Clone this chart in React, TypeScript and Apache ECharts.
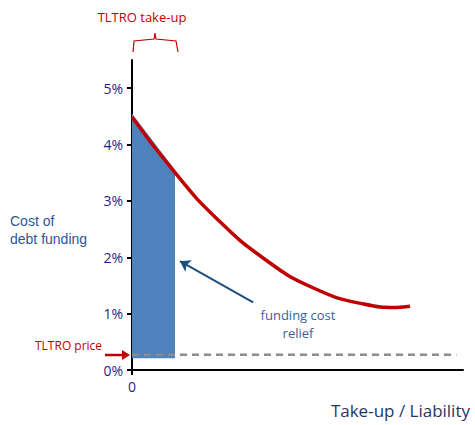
import React, { useEffect, useRef } from "react";
import * as echarts from "echarts";

// cost of debt funding (%) vs take-up / liability
const curve: number[][] = [
  [0, 4.49], [13, 3.5], [25, 2.72], [40, 1.97], [55, 1.45], [70, 1.17], [80, 1.11], [84, 1.13],
];
const reliefArea: number[][] = [[0, 4.55], [13, 3.55], [13, 0.21], [0, 0.21]];
const tltroPrice = 0.27;
const tltroEnd = 98;
const yTicks = [0, 1, 2, 3, 4, 5];

const navy = "#1f1f8a";
const blue = "#2f5597";
const red = "#c00000";

const App: React.FC = () => {
  const chartRef = useRef<HTMLDivElement>(null);

  useEffect(() => {
    document.body.style.margin = "0";
    if (!chartRef.current) return;
    const chart = echarts.init(chartRef.current, null, { renderer: "svg" });

    const option = {
      animation: false,
      textStyle: { fontFamily: "Open Sans" },
      grid: { left: 132, right: 12, top: 60, bottom: 55 },
      xAxis: {
        type: "value",
        min: 0,
        max: 100,
        interval: 100,
        splitLine: { show: false },
        axisLine: { show: true, lineStyle: { color: "#000", width: 2 } },
        axisTick: { show: true, customValues: [0], length: 5, lineStyle: { color: "#000", width: 2 } },
        axisLabel: {
          customValues: [0],
          color: navy,
          fontSize: 14,
          margin: 9,
          formatter: (v: number) => (v === 0 ? "0" : ""),
        },
      },
      yAxis: {
        type: "value",
        min: 0,
        max: 5.5,
        interval: 1,
        splitLine: { show: false },
        axisLine: { show: true, lineStyle: { color: "#000", width: 2 } },
        axisTick: { show: true, customValues: yTicks, length: 5, lineStyle: { color: "#000", width: 2 } },
        axisLabel: {
          customValues: yTicks,
          color: navy,
          fontSize: 14,
          margin: 9,
          formatter: (v: number) => v + "%",
        },
      },
      series: [
        {
          type: "custom",
          data: [0],
          z: 1,
          renderItem: (_p: any, api: any) => ({
            type: "polygon",
            shape: { points: reliefArea.map((d) => api.coord(d)) },
            style: { fill: "#4f81bd" },
          }),
        },
        {
          type: "line",
          data: [[0, tltroPrice], [tltroEnd, tltroPrice]],
          symbol: "none",
          z: 2,
          lineStyle: { color: "#8c8c8c", width: 2.5, type: [7, 5] },
        },
        {
          type: "line",
          data: curve,
          smooth: 0.5,
          symbol: "none",
          z: 3,
          lineStyle: { color: red, width: 3.5 },
          markLine: {
            silent: true,
            symbol: ["none", "arrow"],
            symbolSize: 10,
            label: { show: false },
            lineStyle: { color: "#1f4e79", width: 2, type: "solid" },
            data: [[{ coord: [36.6, 1.2] }, { coord: [14.5, 1.93] }]],
          },
        },
      ],
      graphic: [
        { type: "text", x: 142, y: 17, style: { text: "TLTRO take-up", fill: red, font: "13px 'Open Sans'", textAlign: "center", textVerticalAlign: "middle" } },
        {
          type: "polyline",
          shape: { points: [[133, 52], [134, 41], [154, 39], [155, 33], [156, 39], [176, 41], [178, 52]] },
          style: { stroke: red, lineWidth: 1.2, fill: "none" },
        },
        { type: "text", x: 10, y: 212, style: { text: "Cost of\ndebt funding", fill: blue, font: "14px 'Liberation Sans'", lineHeight: 18 } },
        { type: "text", x: 298, y: 324, style: { text: "funding cost\nrelief", fill: "#3a5f9a", font: "13px 'Open Sans'", lineHeight: 18, textAlign: "center", textVerticalAlign: "middle" } },
        { type: "text", x: 35, y: 345, style: { text: "TLTRO price", fill: red, font: "12px 'Open Sans'", textVerticalAlign: "middle" } },
        { type: "line", shape: { x1: 105, y1: 355, x2: 124, y2: 355 }, style: { stroke: red, lineWidth: 2.5 } },
        { type: "polygon", shape: { points: [[122, 350], [130, 355], [122, 360]] }, style: { fill: red } },
        { type: "text", x: 470, y: 410, style: { text: "Take-up / Liability", fill: "#1f3864", font: "17px 'Open Sans'", textAlign: "right", textVerticalAlign: "middle" } },
      ],
    };

    chart.setOption(option);
    return () => chart.dispose();
  }, []);

  return <div ref={chartRef} style={{ width: 475, height: 425 }} />;
};

export default App;
